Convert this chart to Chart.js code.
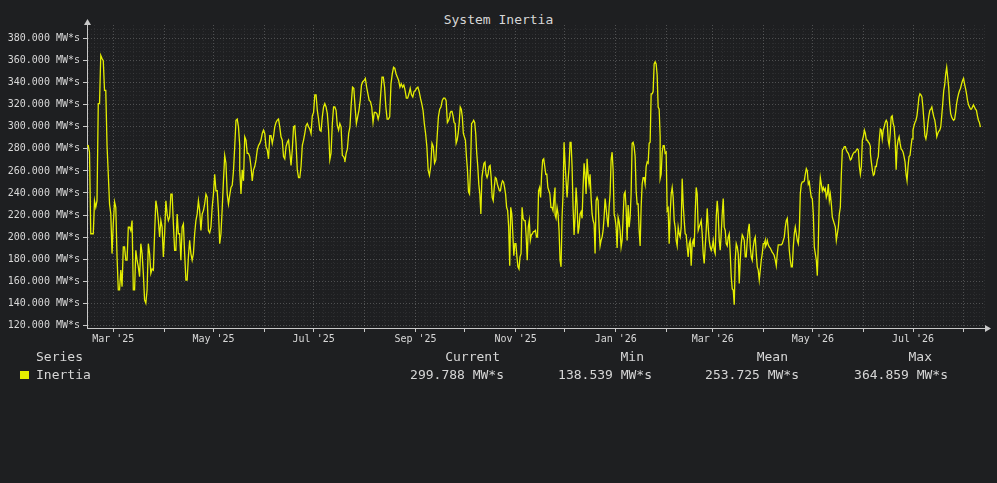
<!DOCTYPE html>
<html>
<head>
<meta charset="utf-8">
<script src="https://cdn.jsdelivr.net/npm/chart.js@4.4.1/dist/chart.umd.min.js"></script>
<style>
    body {margin: 0; background: #1e1f21; width: 997px; height: 483px; overflow: hidden; position: relative;
        font-family: 'DejaVu Sans Mono', monospace; color: #d6d6d6;}
    #title {position: absolute; top: 12px; left: 0; width: 997px; text-align: center; font-size: 13px; line-height: 15px;}
    #wrap {position: absolute; left: 0; top: 0; width: 997px; height: 350px;}
    .lg {position: absolute; font-size: 13px; line-height: 15px; white-space: pre;}
    .sw {position: absolute; left: 20px; top: 371px; width: 9px; height: 8px;}
</style>
</head>
<body>
<div id="title">System Inertia</div>
<div id="wrap"><canvas id="chart"></canvas></div>
<div id="legend"></div>
<script>
    // отрезки времени, на которые разбиты показания (по дате)
    const segDates = ['2025-02-13', '2025-05-17', '2025-07-20', '2025-09-22', '2025-11-25',
        '2026-01-28', '2026-04-02', '2026-06-05', '2026-08-11']

    // значения инерции, тыс. MW*s
    const inertia1 = [283, 283, 277, 203, 203, 203, 233, 227, 233, 321, 321, 364.859, 362, 360, 333, 333, 283, 257, 230, 221,
        185, 212, 232, 227, 182, 152, 152, 170, 155, 191, 191, 179, 179, 209, 209, 206, 215, 152, 152, 188,
        179, 173, 164, 194, 185, 167, 143, 140, 152, 194, 185, 167, 171, 170, 203, 233, 226, 215, 200, 215,
        209, 182, 203, 233, 221, 215, 218, 239, 239, 212, 188, 188, 221, 203, 203, 179, 209, 212, 185, 161,
        161, 182, 197, 185, 179, 185, 203, 215, 221, 233, 224, 206, 221, 224, 230, 239, 236, 206, 204, 209,
        227, 239, 257, 242, 242, 224, 194, 203, 226, 251, 274, 267, 239, 230, 238, 245, 247, 260, 282, 306,
        307, 300, 283]
    const inertia2 = [261, 239, 261, 251, 291, 288, 276, 276, 273, 264, 251, 261, 264, 270, 279, 283, 285, 288, 294, 297,
        294, 282, 279, 271, 292, 292, 285, 291, 300, 304, 306, 307, 300, 291, 288, 273, 271, 282, 286, 288,
        277, 265, 279, 300, 301, 285, 261, 254, 254, 264, 283, 288, 294, 301, 303, 300, 298, 294, 310, 313,
        329, 329, 315, 307, 297, 296, 309, 318, 321, 318, 312, 297, 270, 276, 303, 318, 318, 315, 301, 297,
        303, 300, 274, 273, 270]
    const inertia3 = [268, 276, 280, 294, 300, 321, 336, 335, 318, 303, 309, 315, 324, 338, 341, 342, 344, 336, 330, 324,
        323, 318, 304, 313, 313, 312, 307, 312, 330, 345, 345, 336, 318, 307, 307, 309, 339, 348, 354, 353,
        348, 345, 342, 336, 339, 336, 338, 333, 326, 326, 330, 335, 329, 327, 332, 333, 335, 336, 332, 326,
        321, 315, 303, 294, 282, 261, 256, 264, 285, 282, 267, 270, 291, 309, 316, 318, 324, 326, 326, 324,
        304, 306, 310]
    const inertia4 = [312, 314, 314, 310, 304, 303, 285, 288, 294, 304, 318, 316, 309, 294, 291, 288, 273, 261, 241, 239,
        264, 303, 304, 306, 304, 294, 276, 264, 248, 239, 221, 254, 261, 267, 268, 257, 254, 257, 264, 265,
        254, 236, 233, 245, 254, 253, 248, 245, 242, 242, 248, 251, 250, 245, 239, 227, 224, 209, 174, 227,
        221, 203, 183, 194, 194, 182, 173, 171, 182, 185, 227, 217, 215, 215, 200, 179, 209, 215, 197, 202,
        203, 205, 205, 206, 200, 200, 242, 245, 236, 257, 270, 271, 264, 257, 257, 245, 242, 239, 227, 227,
        224, 236, 245]
    const inertia5 = [220, 217, 227, 221, 206, 179, 173, 218, 239, 286, 267, 251, 236, 251, 264, 286, 286, 264, 227, 202,
        218, 245, 230, 203, 209, 221, 223, 217, 245, 267, 257, 239, 271, 257, 248, 257, 236, 221, 215, 212,
        185, 233, 236, 233, 209, 192, 197, 200, 206, 218, 235, 226, 217, 209, 227, 239, 270, 277, 261, 221,
        217, 209, 190, 218, 214, 206, 191, 197, 218, 239, 241, 226, 197, 229, 209, 218, 239, 285, 286, 282,
        273, 242, 230, 230, 206, 192, 227, 248, 254, 254, 248, 264, 268, 267, 285, 286, 330, 330, 332, 357,
        359, 357, 347, 318, 316, 291]
    const inertia6 = [253, 257, 277, 283, 283, 276, 277, 224, 226, 194, 221, 239, 245, 236, 215, 209, 197, 192, 209, 203,
        200, 209, 253, 230, 215, 203, 202, 191, 182, 194, 197, 174, 194, 197, 191, 221, 245, 239, 206, 209,
        212, 215, 203, 185, 176, 191, 206, 226, 209, 197, 191, 188, 191, 197, 188, 185, 218, 233, 221, 197,
        188, 203, 221, 235, 209, 206, 194, 192, 200, 203, 185, 164, 153, 152, 138.539, 179, 194, 191, 185, 158,
        179, 194, 202, 200, 197, 182, 182, 197, 206, 212, 191, 182, 179, 191, 197, 200, 185, 173, 170, 161,
        170, 179, 185, 194, 194, 197]
    const inertia7 = [191, 193, 197, 193, 191, 190, 188, 186, 185, 183, 179, 174, 185, 193, 193, 193, 193, 194, 197, 200,
        209, 215, 217, 203, 188, 179, 173, 173, 191, 203, 209, 203, 197, 194, 206, 239, 248, 250, 250, 251,
        257, 262, 260, 248, 250, 242, 236, 235, 221, 191, 185, 179, 165, 194, 239, 254, 248, 242, 245, 242,
        244, 236, 239, 248, 233, 239, 230, 218, 215, 212, 209, 197, 203, 209, 221, 227, 257, 279, 280, 282,
        282, 279, 277, 276, 273, 270, 271, 274, 276, 277, 277, 279, 280, 279, 264, 257, 264, 288, 291, 297,
        294, 288, 288, 286, 285, 282]
    const inertia8 = [276, 268, 261, 256, 257, 264, 264, 270, 273, 288, 298, 297, 289, 297, 300, 304, 306, 304, 288, 283,
        294, 309, 310, 303, 300, 288, 261, 282, 288, 291, 285, 280, 279, 277, 273, 268, 257, 251, 264, 273,
        274, 282, 289, 297, 301, 304, 306, 310, 318, 327, 330, 329, 327, 318, 306, 292, 289, 294, 303, 310,
        315, 316, 318, 313, 309, 306, 300, 291, 294, 296, 297, 300, 310, 321, 333, 338, 348, 354, 345, 336,
        321, 312, 309, 307, 306, 307, 313, 321, 326, 330, 333, 335, 339, 342, 344, 339, 335, 330, 324, 320,
        318, 316, 316, 318, 320, 318, 316, 315, 310, 306, 304, 299.788]
    const segments = [inertia1, inertia2, inertia3, inertia4, inertia5, inertia6, inertia7, inertia8]

    // итоги из легенды
    const statNames = ['Current', 'Min', 'Mean', 'Max']
    const statValues = [299.788, 138.539, 253.725, 364.859]

    const monthNames = ['Jan', 'Feb', 'Mar', 'Apr', 'May', 'Jun', 'Jul', 'Aug', 'Sep', 'Oct', 'Nov', 'Dec']
    const yMajor = [120, 140, 160, 180, 200, 220, 240, 260, 280, 300, 320, 340, 360, 380]

    const LINE = '#e4ee00'
    const TEXT = '#d8d8d8'
    const AXIS = '#c8c8c8'
    const GRID_MAJOR = 'rgba(255,255,255,0.22)'
    const GRID_MINOR = 'rgba(255,255,255,0.07)'
    const DAY = 86400000
    const START = Date.parse(segDates[0])
    const toDay = d => (d - START) / DAY
    const X_MAX = 546.8

    const fmt = v => v.toFixed(3) + ' MW*s'

    // точки: каждый отрезок равномерно по своему интервалу дат
    const points = []
    segments.forEach((vals, s) => {
        const a = toDay(Date.parse(segDates[s]))
        const b = toDay(Date.parse(segDates[s + 1]))
        vals.forEach((v, j) => points.push({x: a + (b - a) * j / (vals.length - 1), y: v}))
    })

    // деления по оси X: начало месяца и 4 промежуточных
    const xTicks = []
    for (let y = 2025, m = 1; ; m++) {
        if (m > 11) { m = 0; y++ }
        const d0 = toDay(Date.UTC(y, m, 1))
        const d1 = toDay(Date.UTC(y, m + 1, 1))
        if (d0 > X_MAX) break
        for (let k = 0; k < 5; k++) {
            const v = d0 + (d1 - d0) * k / 5
            if (v < 0 || v > X_MAX) continue
            xTicks.push({
                value: v, major: k === 0,
                lbl: k === 0 && m % 2 === 0 ? `${monthNames[m]} '${String(y).slice(2)}` : ''
            })
        }
    }
    const yTicks = []
    for (let v = 120; v <= 388; v += 4) {
        yTicks.push({value: v, major: yMajor.includes(v), lbl: yMajor.includes(v) ? fmt(v) : ''})
    }

    const arrows = {
        id: 'arrows',
        afterDraw(chart) {
            const {ctx, chartArea: {left, top, right, bottom}} = chart
            const x0 = Math.round(left) + 0.5
            const y0 = Math.round(bottom) + 0.5
            ctx.save()
            ctx.fillStyle = AXIS
            ctx.beginPath()
            ctx.moveTo(x0, top - 6); ctx.lineTo(x0 - 3.5, top); ctx.lineTo(x0 + 3.5, top)
            ctx.fill()
            ctx.beginPath()
            ctx.moveTo(right + 6, y0); ctx.lineTo(right, y0 - 3.5); ctx.lineTo(right, y0 + 3.5)
            ctx.fill()
            ctx.restore()
        }
    }

    const gridOpts = {
        color: c => c.tick && c.tick.major ? GRID_MAJOR : GRID_MINOR,
        tickColor: c => c.tick && c.tick.major ? AXIS : 'transparent',
        tickLength: 4,
        lineWidth: 1
    }

    new Chart(document.getElementById('chart').getContext('2d'), {
        type: 'line',
        data: {
            datasets: [{
                label: 'Inertia',
                data: points,
                borderColor: LINE,
                backgroundColor: LINE,
                borderWidth: 1.3,
                pointRadius: 0,
                tension: 0,
                fill: false
            }]
        },
        options: {
            responsive: true,
            maintainAspectRatio: false,
            animation: false,
            parsing: false,
            layout: {padding: {top: 25, right: 12, left: 0, bottom: 0}},
            plugins: {legend: {display: false}, tooltip: {enabled: false}, title: {display: false}},
            scales: {
                x: {
                    type: 'linear',
                    min: 0,
                    max: X_MAX,
                    afterBuildTicks: s => { s.ticks = xTicks.map(t => ({...t})) },
                    afterFit: s => { s.height = 22 },
                    grid: gridOpts,
                    border: {display: true, color: AXIS, width: 1, dash: [1, 2]},
                    ticks: {
                        autoSkip: false, maxRotation: 0, minRotation: 0, padding: 1,
                        color: TEXT, font: {family: 'DejaVu Sans Mono', size: 10},
                        callback: (v, i, ticks) => ticks[i].lbl
                    }
                },
                y: {
                    type: 'linear',
                    min: 117.5,
                    max: 392.4,
                    afterBuildTicks: s => { s.ticks = yTicks.map(t => ({...t})) },
                    afterFit: s => { s.width = 87 },
                    grid: gridOpts,
                    border: {display: true, color: AXIS, width: 1, dash: [1, 2]},
                    ticks: {
                        autoSkip: false, padding: 3,
                        color: TEXT, font: {family: 'DejaVu Sans Mono', size: 10},
                        callback: (v, i, ticks) => ticks[i].lbl
                    }
                }
            }
        },
        plugins: [arrows]
    })

    // легенда с итогами
    const headRight = [500, 644, 788, 932]
    const valRight = [504, 652, 799, 948]
    let html = `<div class="lg" style="left:36px;top:349px">Series</div>` +
        `<div class="sw" style="background:${LINE}"></div>` +
        `<div class="lg" style="left:36px;top:367px">Inertia</div>`
    statNames.forEach((n, i) => {
        html += `<div class="lg" style="right:${997 - headRight[i]}px;top:349px">${n}</div>`
        html += `<div class="lg" style="right:${997 - valRight[i]}px;top:367px">${fmt(statValues[i])}</div>`
    })
    document.getElementById('legend').innerHTML = html
</script>
</body>
</html>
